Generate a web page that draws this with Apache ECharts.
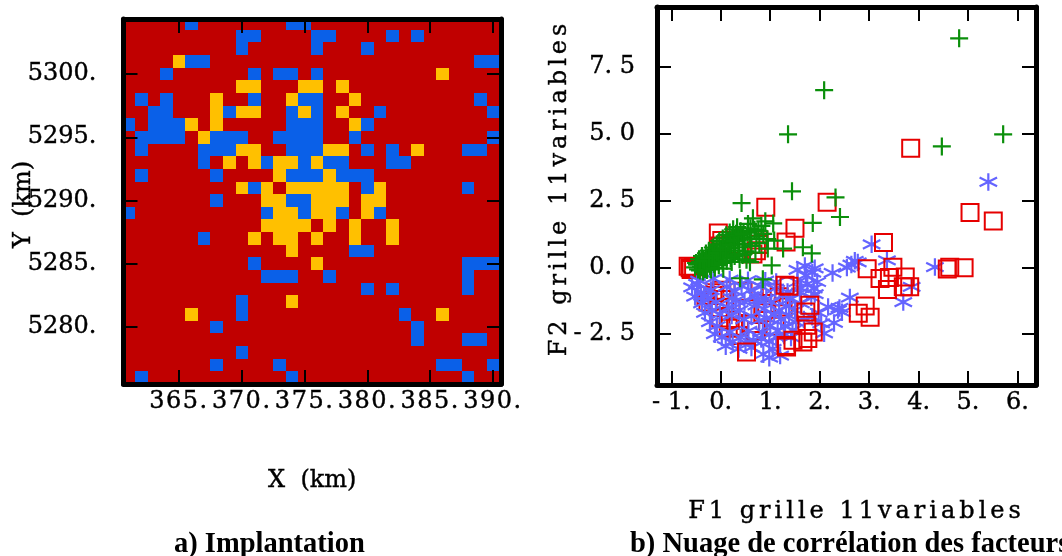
<!DOCTYPE html>
<html><head><meta charset="utf-8">
<script src="https://cdn.jsdelivr.net/npm/echarts@6/dist/echarts.min.js"></script>
<style>html,body{margin:0;padding:0;background:#fff}#c{width:1062px;height:556px}</style></head>
<body><div id="c"></div>
<script>
const mapX = [361,362,363,364,365,366,367,368,369,370,371,372,373,374,375,376,377,378,379,380,381,382,383,384,385,386,387,388,389,390];
const mapY = [5304,5303,5302,5301,5300,5299,5298,5297,5296,5295,5294,5293,5292,5291,5290,5289,5288,5287,5286,5285,5284,5283,5282,5281,5280,5279,5278,5277,5276];
const blueCells = [
 [5304,[366,374,375]],[5303,[370,371,376,377,382,384]],[5302,[370,376,380]],[5301,[366,367,389,390]],
 [5300,[364,371,373,374,376]],[5298,[362,364,371,375,376,389]],[5297,[363,364,369,374,376,381,390]],
 [5296,[361,363,364,365,374,375,376,380]],[5295,[362,363,364,365,368,369,370,373,374,375,376,379,390]],
 [5294,[362,367,368,369,374,375,376,380,382,388,389]],[5293,[367,372,375,377,378,382,383]],
 [5292,[362,368,374,375,376,378,379,380]],[5291,[371,380,388]],[5290,[368,374,375]],[5289,[361,372,375,378,381]],
 [5287,[367]],[5286,[379,380]],[5285,[371,388,389,390]],[5284,[372,373,374,377,388]],[5283,[380,382,388]],
 [5282,[370]],[5281,[370,383]],[5280,[368,384]],[5279,[384,388,389]],[5278,[370]],[5277,[368,373,386,387,390]],[5276,[362,374,388]]
];
const yellowCells = [
 [5301,[365]],[5300,[386]],[5299,[370,371,375,376,378]],[5298,[368,374,379]],[5297,[368,370,371,375,378]],
 [5296,[366,368,379]],[5295,[367]],[5294,[370,371,377,378,384]],[5293,[369,371,373,374,376]],[5292,[373,377]],
 [5291,[370,372,374,375,376,377,378,381]],[5290,[372,373,376,377,378,380,381]],[5289,[373,374,376,377,380]],
 [5288,[372,373,374,375,377,379,382]],[5287,[371,373,374,376,379,382]],[5286,[374]],[5285,[376]],[5282,[374]],[5281,[366,386]]
];
const mapXTicks = [365,370,375,380,385,390];
const mapYTicks = [5280,5285,5290,5295,5300];
const scatterXTicks = [-1,0,1,2,3,4,5,6];
const scatterYTicks = [-2.5,0,2.5,5,7.5];
const scatterXLabels = ['- 1.','0.','1.','2.','3.','4.','5.','6.'];
const scatterYLabels = ['- 2. 5','0. 0','2. 5','5. 0','7. 5'];
const redUnder = [[-.62,-.02],[-.66,.04],[-.6,-.08],[-.55,.02],[-.16,-1.05],[-.26,-1.3],[.15,-2.28],[.93,-1.35],[1.26,-1.48],[.19,-1.98],[.02,-.86],[.6,-2.1],[.85,-1.7],[.35,-2.55],[-.05,-1.5],[1.1,-2.2],[.45,-.9],[-.12,-.95],[.08,-1.2],[-.3,-1.05],[.55,-1.55],[.72,-2.4],[1.02,-.95],[1.18,-1.1],[.3,-2.2],[.0,-1.9]];
const redOver = [[.91,2.24],[-.05,1.28],[.02,1.0],[.2,.85],[.77,1.02],[.77,.85],[.72,.62],[.65,.5],[-.02,.8],[1.5,1.46],[1.32,.95],[2.15,2.43],[3.84,4.45],[5.04,2.05],[5.51,1.73],[3.29,.93],[2.96,-.05],[3.22,-.42],[3.48,0],[3.41,-.38],[3.37,-.83],[3.73,-.36],[3.82,-.73],[3.69,-.73],[4.58,-.06],[4.63,0],[4.92,-.02],[2.92,-1.45],[2.78,-1.72],[3.02,-1.87],[.52,-3.17],[1.32,-2.92],[1.3,-.67],[1.38,-.71],[1.8,-1.42],[1.72,-1.67],[1.74,-2.17],[1.87,-2.42],[1.76,-2.66],[1.66,-2.79],[1.33,-2.98],[1.46,-2.73]];
const bluePts = [[5.41,3.19],[3.05,.86],[3.36,.26],[4.33,.01],[2.71,.24],[2.77,.18],[2.64,.1],[2.55,-.01],[2.26,-.21],[1.9,-.04],[1.88,-.79],[1.72,-.3],[1.55,-.55],[1.83,-1.12],[2.61,-1.13],[3.86,-.73],[3.69,-1.3],[2.17,-1.48],[2.37,-1.6],[2.45,-1.68],[2.4,-1.52],[2.29,-2.08],[2.09,-2.47],[1.85,-1.85],[1.6,-.95],
[1.55,-.1],[1.7,.05],[1.85,-.2],[1.95,-.55],[1.62,-.78],[1.75,-.62],[1.9,-1.0],[1.98,-1.7],[2.03,-2.1],
[-.58,-.75],[-.48,-.62],[-.4,-.95],[-.52,-1.1],[-.2,-.85],[.12,-.72],[.28,-.9],[.42,-.7],[-.38,-1.35],[-.25,-1.15],[-.1,-1.3],[-.32,-1.7],[-.18,-1.62],[-.02,-1.75],[.16,-1.5],[.3,-1.25],[.68,-1.05],[.82,-.72],[1.1,-.8],[1.25,-1.05],[1.4,-1.2],
[-.44,-.5],[-.15,-.42],[.18,-.46],[.55,-.48],[.9,-.5],[1.12,-.55],[-.34,-1.08],[.22,-1.16],[.6,-.85],[.75,-1.22],[.92,-1.18],[1.35,-.92],
[-.22,-2.05],[-.08,-2.2],[.22,-1.8],[.38,-1.6],[.72,-1.42],[.88,-1.55],[1.02,-1.3],[1.18,-1.62],[1.32,-1.45],[1.5,-1.6],[1.62,-1.35],[-.12,-2.5],[.02,-2.62],[.18,-2.42],[.47,-1.95],[.62,-1.82],[.78,-1.98],[.92,-1.9],[1.08,-1.78],[1.22,-1.95],[1.38,-1.82],[1.52,-2.05],[1.68,-1.95],
[.1,-2.95],[.24,-2.78],[.4,-2.62],[.56,-2.38],[.85,-2.42],[1.0,-2.18],[1.15,-2.38],[1.3,-2.2],[1.45,-2.35],[.36,-3.05],[.5,-2.82],[.66,-2.72],[.82,-2.68],[.98,-2.78],[1.12,-2.6],[1.28,-2.55],[.86,-3.25],[.98,-3.38],[1.2,-3.3],[1.05,-3.05],[.62,-3.0],[.48,-1.3],[1.42,-2.62]];
const greenPts = [[4.82,8.56],[2.09,6.62],[1.36,4.97],[4.47,4.52],[5.71,4.97],[1.44,2.84],[2.32,2.61],[2.41,1.88],[1.86,1.66],[1.84,.52],[.42,2.4],[.65,1.83],[.55,1.62],[.9,1.72],[1.06,1.64],[1.08,1.0],[1.26,.7],[1.66,.75],[1.03,.07],[.59,.19],[.39,-.41],[.85,-.45],[.05,-.05],
[-.52,.0],[-.48,.1],[-.46,-.08],[-.42,.2],[-.4,.02],[-.36,.3],[-.34,.12],[-.32,-.06],[-.28,.38],[-.26,.2],[-.22,.04],[-.2,.5],[-.18,.28],[-.14,.12],[-.12,.6],[-.1,.4],[-.06,.24],[-.02,.7],[.0,.5],[.03,.32],[.06,.85],[.08,.62],[.12,.44],[.14,.95],[.17,.72],[.2,.52],[.23,1.1],[.26,.85],[.29,.62],[.31,1.25],[.34,1.0],[.37,.75],[.4,1.35],[.44,1.12],[.47,.88],[.5,.6],[.54,1.3],[.58,1.05],[.62,.8],[.68,1.4],[.72,1.15],[.78,.9],[.82,1.55],[.86,1.25],[.94,1.05],[.38,.3],[.22,.2],[.7,.55],[.95,.7],[.52,.28],
[-.5,.16],[-.44,.3],[-.38,.42],[-.3,.52],[-.24,.62],[-.16,.74],[-.08,.86],[-.03,.98],[.04,1.08],[.11,1.2],[.18,1.3],[.25,1.42],[.33,1.5],[-.42,-.12],[-.36,-.16],[-.28,-.1],[-.2,-.08],[-.12,-.02],[-.04,.08],[.04,.16],[.12,.24],[.2,.34],[.28,.42],[.36,.5],[.44,.46],[-.33,.24],[-.24,.34],[-.16,.44],[-.08,.54],[.0,.62],[.1,.74],[.19,.84],[.27,.98],[.36,1.18],[.46,1.24],[.6,1.46],[.76,1.36]];

// Axis-title and x tick glyphs are set wide in the reference; keep real strings, just track them.
const tracked = {'F1 grille 11variables': '4px', 'F2 grille 11variables': '4px', '365.': '1.5px', '370.': '1.5px', '375.': '1.5px', '380.': '1.5px', '385.': '1.5px', '390.': '1.5px'};
['fillText', 'strokeText'].forEach(fn => {
  const orig = CanvasRenderingContext2D.prototype[fn];
  CanvasRenderingContext2D.prototype[fn] = function (t, x, y, m) {
    const ls = tracked[t];
    if (ls) this.letterSpacing = ls;
    const r = m === undefined ? orig.call(this, t, x, y) : orig.call(this, t, x, y, m);
    if (ls) this.letterSpacing = '0px';
    return r;
  };
});

const serif = '"DejaVu Serif"';
const faux = {textBorderColor: '#000', textBorderWidth: 0.4};
const lbl = Object.assign({fontFamily: serif, fontSize: 24, color: '#000'}, faux);
const lineS = {show: true, onZero: false, lineStyle: {color: '#000', width: 5}};
const tickS = (vals) => ({show: true, inside: true, length: 14, customValues: vals, lineStyle: {color: '#000', width: 2}});

function makeAxis(gridIndex, position, min, max, ticks, extra) {
  return Object.assign({type: 'value', gridIndex, position, min, max, z: 10, nameMoveOverlap: false, splitLine: {show: false},
    axisLine: lineS, axisTick: tickS(ticks), axisLabel: {show: false}}, extra || {});
}
function labelled(ticks, labels, margin) {
  return Object.assign({show: true, margin, customValues: ticks, hideOverlap: false, showMinLabel: true, showMaxLabel: true,
    fontFamily: serif, fontSize: 24, color: '#000',
    formatter: (v) => labels[ticks.findIndex(t => Math.abs(t - v) < 1e-6)]}, faux);
}
const cells = [];
const lookup = (list, y, x) => { const r = list.find(e => e[0] === y); return r && r[1].includes(x); };
mapY.forEach(y => mapX.forEach(x => cells.push([x, y, lookup(blueCells, y, x) ? 1 : lookup(yellowCells, y, x) ? 2 : 0])));
const cellColors = ['#c00000', '#0a60e8', '#ffc000'];

const sq = {type: 'scatter', xAxisIndex: 2, yAxisIndex: 2, symbol: 'rect', symbolSize: 17, clip: false,
  itemStyle: {color: 'transparent', borderColor: '#e60000', borderWidth: 2, opacity: 1}};
const ast = 'path://M8 0V16M1 4L15 12M1 12L15 4';
const plus = 'path://M8 0V16M0 8H16';
const capStyle = {fontFamily: '"Liberation Serif"', fontSize: 28.5, fontWeight: 'bold', color: '#000'};

const option = {
  animation: false,
  backgroundColor: '#fff',
  title: [
    {text: 'a) Implantation', left: 169, top: 525, textStyle: capStyle},
    {text: 'b) Nuage de corrélation des facteurs', left: 625, top: 525, textStyle: capStyle}
  ],
  grid: [
    {left: 123.5, top: 19, width: 377.5, height: 365, outerBoundsMode: 'none'},
    {left: 657, top: 7, width: 379, height: 378, outerBoundsMode: 'none'}
  ],
  xAxis: [
    makeAxis(0, 'bottom', 360.58, 390.64, mapXTicks, {axisLabel: labelled(mapXTicks, mapXTicks.map(v => v + '.'), 6),
      name: 'X  (km)', nameLocation: 'middle', nameGap: 85, nameTextStyle: lbl}),
    makeAxis(0, 'top', 360.58, 390.64, mapXTicks),
    makeAxis(1, 'bottom', -1.29, 6.374, scatterXTicks, {axisLabel: labelled(scatterXTicks, scatterXLabels, 6),
      name: 'F1 grille 11variables', nameLocation: 'middle', nameGap: 115, nameTextStyle: Object.assign({}, lbl, {padding: [0, 0, 0, 20]})}),
    makeAxis(1, 'top', -1.29, 6.374, scatterXTicks)
  ],
  yAxis: [
    makeAxis(0, 'left', 5275.49, 5304.35, mapYTicks, {axisLabel: labelled(mapYTicks, mapYTicks.map(v => v + '.'), 27),
      name: 'Y  (km)', nameLocation: 'middle', nameGap: 88, nameTextStyle: Object.assign({}, lbl, {padding: [0, 6, 0, 0]})}),
    makeAxis(0, 'right', 5275.49, 5304.35, mapYTicks),
    makeAxis(1, 'left', -4.4, 9.73, scatterYTicks, {axisLabel: labelled(scatterYTicks, scatterYLabels, 22),
      name: 'F2 grille 11variables', nameLocation: 'middle', nameGap: 85, nameTextStyle: Object.assign({}, lbl, {padding: [0, 0, 0, 16]})}),
    makeAxis(1, 'right', -4.4, 9.73, scatterYTicks)
  ],
  series: [
    {type: 'custom', xAxisIndex: 0, yAxisIndex: 0, data: cells, silent: true, z: 1,
      renderItem(params, api) {
        const x = api.value(0), y = api.value(1);
        const a = api.coord([x - .5, y + .5]), b = api.coord([x + .5, y - .5]);
        const x0 = Math.round(a[0]), y0 = Math.round(a[1]);
        const shape = echarts.graphic.clipRectByRect(
          {x: x0, y: y0, width: Math.round(b[0]) - x0, height: Math.round(b[1]) - y0},
          {x: params.coordSys.x, y: params.coordSys.y, width: params.coordSys.width, height: params.coordSys.height});
        return shape && {type: 'rect', shape, style: {fill: cellColors[api.value(2)]}};
      }},
    Object.assign({}, sq, {name: 'red-low', data: redUnder, z: 2}),
    {type: 'scatter', name: 'blue', xAxisIndex: 2, yAxisIndex: 2, data: bluePts, symbol: ast, symbolSize: 17.5, z: 3, clip: false,
      itemStyle: {color: 'transparent', borderColor: '#6464ff', borderWidth: 2.2, opacity: 1}},
    Object.assign({}, sq, {name: 'red', data: redOver, z: 4}),
    {type: 'scatter', name: 'green', xAxisIndex: 2, yAxisIndex: 2, data: greenPts, symbol: plus, symbolSize: 18, z: 5, clip: false,
      itemStyle: {color: 'transparent', borderColor: '#0a8f0a', borderWidth: 2.2, opacity: 1}}
  ]
};
echarts.init(document.getElementById('c'), null, {renderer: 'canvas'}).setOption(option);
</script></body></html>
